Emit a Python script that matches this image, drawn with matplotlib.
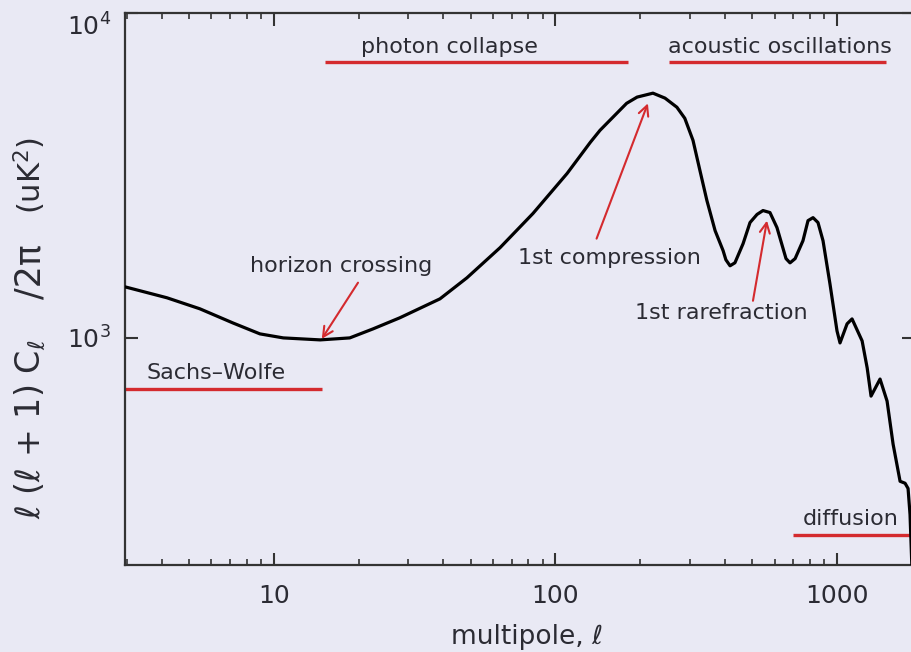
import matplotlib
matplotlib.use("Agg")
import matplotlib.pyplot as plt
from matplotlib.ticker import LogLocator, NullLocator, NullFormatter, FixedLocator

# ---- data ----
ell = [2.96, 4.17, 5.46, 7.15, 8.92, 10.8, 14.6, 18.6, 22.5, 28.0, 38.9, 48.5,
       63.6, 83.2, 110, 133, 144, 179, 195, 222, 245, 270, 288, 308, 326, 345,
       369, 394, 403, 417, 434, 464, 491, 520, 546, 578, 612, 659, 681, 710, 757,
       789, 822, 856, 892, 944, 1000, 1025, 1086, 1131, 1228, 1280, 1321, 1422,
       1506, 1582, 1675, 1745, 1788, 1817, 1846]
power = [1436, 1329, 1229, 1112, 1029, 1000, 986, 1000, 1066, 1153, 1319, 1531,
         1896, 2415, 3207, 3999, 4355, 5273, 5510, 5666, 5470, 5128, 4742, 4056,
         3274, 2650, 2139, 1856, 1740, 1667, 1703, 1951, 2265, 2399, 2466, 2431,
         2186, 1754, 1702, 1754, 1991, 2296, 2345, 2265, 1991, 1467, 1051, 965,
         1105, 1144, 979, 808, 662, 747, 639, 471, 362, 357, 344, 286, 195]

xticks = [10, 100, 1000]
xticklabels = ["10", "100", "1000"]
yticks = [1e3, 1e4]
yticklabels = ["10$^3$", "10$^4$"]

# y-axis title, written in three parts (bottom to top)
ylabel_parts = ["\u2113 (\u2113 + 1) C$_\u2113$", "/2\u03c0", "(uK$^2$)"]

# labels: (text, x, y)
labels = [("photon collapse", 42.2, 7850),
          ("acoustic oscillations", 628, 7850),
          ("horizon crossing", 17.4, 1668),
          ("Sachs\u2013Wolfe", 6.22, 780),
          ("1st compression", 156, 1766),
          ("1st rarefraction", 387, 1194),
          ("diffusion", 1122, 278)]
# underlines: (x0, x1, y)
underlines = [(15.2, 181, 7060), (253, 1493, 7060), (2.96, 14.8, 696), (698, 2000, 247)]
# arrows: (tail_x, tail_y, head_x, head_y)
arrows = [(19.9, 1479, 14.8, 993), (140, 2021, 213, 5271), (503, 1301, 564, 2296)]

BG = "#e9e9f4"
RED = "#d42a2e"
INK = "#2b2b33"

fig = plt.figure(figsize=(9.12, 6.52), dpi=100, facecolor=BG)
ax = fig.add_axes([125/912, 87/652, (914-125)/912, (565-13)/652])
ax.set_facecolor(BG)

ax.plot(ell, power, color="black", lw=2.3, solid_joinstyle="round",
        solid_capstyle="round", zorder=3)

ax.set_xscale("log")
ax.set_yscale("log")
ax.set_xlim(2.96, 1877)
ax.set_ylim(200, 1e4)

for s in ax.spines.values():
    s.set_linewidth(1.6)
    s.set_color("#333333")

ax.xaxis.set_major_locator(FixedLocator(xticks))
ax.set_xticklabels(xticklabels)
ax.xaxis.set_minor_locator(LogLocator(base=10, subs=range(2, 10), numticks=20))
ax.xaxis.set_minor_formatter(NullFormatter())
ax.yaxis.set_major_locator(FixedLocator(yticks))
ax.set_yticklabels(yticklabels)
ax.yaxis.set_minor_locator(NullLocator())

ax.tick_params(which="major", direction="in", length=9, width=1.5, color="#333333",
               top=True, right=True, labelsize=18, labelcolor=INK, pad=10)
ax.tick_params(axis="x", which="major", pad=14)
ax.tick_params(which="minor", direction="in", length=4.5, width=1.2, color="#333333",
               top=True, right=True)
ax.yaxis.get_major_ticks()[1].label1.set_verticalalignment("top")

ax.set_xlabel("multipole, \u2113", fontsize=19, color=INK)
ax.xaxis.set_label_coords(0.51, -0.106)

for part, yc, fs in zip(ylabel_parts, [0.246, 0.531, 0.705], [24, 25, 22]):
    ax.text(-0.1204, yc, part, transform=ax.transAxes, rotation=90, fontsize=fs,
            color=INK, ha="center", va="center", rotation_mode="anchor")

for t, x, y in labels:
    ax.text(x, y, t, fontsize=16, color=INK, ha="center", va="center", zorder=4)

for x0, x1, y in underlines:
    ax.plot([x0, x1], [y, y], color=RED, lw=2.4, solid_capstyle="butt", zorder=2)

for tx, ty, hx, hy in arrows:
    ax.annotate("", xy=(hx, hy), xytext=(tx, ty),
                arrowprops=dict(arrowstyle="->", color=RED, lw=1.5,
                                mutation_scale=18, shrinkA=0, shrinkB=0), zorder=4)

fig.savefig("out.png", dpi=100, facecolor=BG)
